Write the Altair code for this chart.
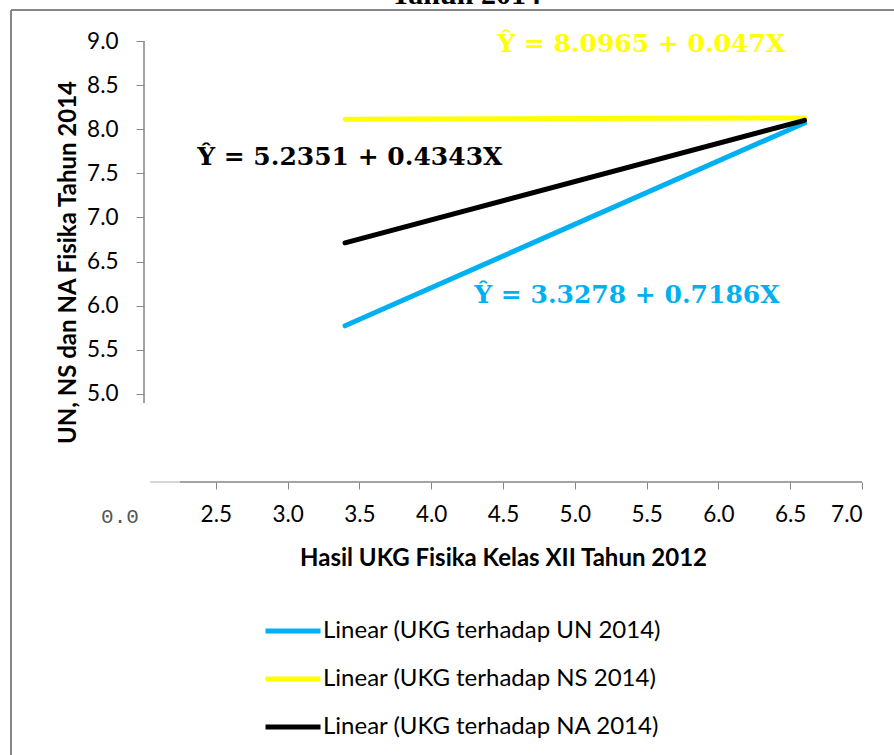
import altair as alt
import pandas as pd

# Regression lines: UKG 2012 score (x) against 2014 physics results (y)
series = [
    "Linear (UKG terhadap UN 2014)",
    "Linear (UKG terhadap NS 2014)",
    "Linear (UKG terhadap NA 2014)",
]
colors = ["#00B0F0", "#FFFF00", "#000000"]
x_ends = [3.4, 6.6]
y_un = [5.771, 8.071]
y_ns = [8.112, 8.127]
y_na = [6.712, 8.101]

# Equation annotations
eq_texts = ["Ŷ = 3.3278 + 0.7186X", "Ŷ = 8.0965 + 0.047X", "Ŷ = 5.2351 + 0.4343X"]

x_ticks = [2.5, 3.0, 3.5, 4.0, 4.5, 5.0, 5.5, 6.0, 6.5, 7.0]
y_ticks = [5.0, 5.5, 6.0, 6.5, 7.0, 7.5, 8.0, 8.5, 9.0]

lines = pd.DataFrame(
    [
        {"series": s, "x": xv, "y": yv}
        for s, ys in zip(series, [y_un, y_ns, y_na])
        for xv, yv in zip(x_ends, ys)
    ]
)

W, H = 718, 441
AXIS_GRAY = "#868686"
FONT = "Lato"
EQ_FONT = "DejaVu Serif"

x_scale = alt.Scale(domain=[2.0, 7.0], nice=False, zero=False)
y_scale = alt.Scale(domain=[4.0, 9.0], nice=False, zero=False)

line_layer = (
    alt.Chart(lines)
    .mark_line(strokeWidth=5, strokeCap="round")
    .encode(
        x=alt.X(
            "x:Q",
            scale=x_scale,
            axis=alt.Axis(
                values=x_ticks,
                format=".1f",
                domain=False,
                grid=False,
                tickColor=AXIS_GRAY,
                tickSize=7,
                labelFont=FONT,
                labelFontSize=22.5,
                labelColor="#000000",
                labelPadding=14,
                title="Hasil UKG Fisika Kelas XII Tahun 2012",
                titleFont=FONT,
                titleFontSize=24,
                titleFontWeight="bold",
                titleColor="#000000",
                titleX=359,
                titleY=76,
                titleBaseline="middle",
            ),
        ),
        y=alt.Y(
            "y:Q",
            scale=y_scale,
            axis=alt.Axis(
                values=y_ticks,
                format=".1f",
                domain=False,
                grid=False,
                tickColor=AXIS_GRAY,
                tickSize=8,
                labelFont=FONT,
                labelFontSize=22.5,
                labelColor="#000000",
                labelPadding=18,
                title="UN, NS dan NA Fisika Tahun 2014",
                titleFont=FONT,
                titleFontSize=24,
                titleFontWeight="bold",
                titleColor="#000000",
                titleX=-76,
                titleY=221,
                titleBaseline="middle",
            ),
        ),
        color=alt.Color(
            "series:N",
            scale=alt.Scale(domain=series, range=colors),
            sort=series,
            legend=alt.Legend(
                title=None,
                orient="none",
                legendX=119,
                legendY=560,
                direction="vertical",
                symbolType="stroke",
                symbolSize=3025,
                symbolStrokeWidth=5,
                labelFont=FONT,
                labelFontSize=24,
                labelColor="#000000",
                labelOffset=0,
                labelLimit=0,
                rowPadding=6,
            ),
        ),
    )
)

# Axis lines drawn separately so the vertical axis stops just below 5.0
y_axis_line = alt.Chart().mark_rule(color=AXIS_GRAY, strokeWidth=1.5).encode(
    x=alt.value(0), y=alt.value(0), y2=alt.value(362)
)
x_axis_faint = alt.Chart().mark_rule(color="#C8C8C8", strokeWidth=1.5).encode(
    x=alt.value(6), x2=alt.value(36), y=alt.value(H)
)
x_axis_line = alt.Chart().mark_rule(color=AXIS_GRAY, strokeWidth=1.5).encode(
    x=alt.value(36), x2=alt.value(W), y=alt.value(H)
)
zero_label = alt.Chart().mark_text(
    text="0.0", font="Liberation Mono", fontSize=21, color="#555555", align="center", baseline="middle"
).encode(x=alt.value(-24), y=alt.value(476))

# Outer chart frame (left and top edges) and partly hidden title
frame_left = alt.Chart().mark_rule(color=AXIS_GRAY, strokeWidth=2).encode(
    x=alt.value(-133), y=alt.value(-31), y2=alt.value(800)
)
frame_top = alt.Chart().mark_rule(color=AXIS_GRAY, strokeWidth=2).encode(
    x=alt.value(-133), x2=alt.value(800), y=alt.value(-31)
)
title = alt.Chart().mark_text(
    text="Tahun 2014", font="Liberation Serif", fontSize=30, fontWeight="bold",
    color="#000000", align="center", baseline="alphabetic"
).encode(x=alt.value(322), y=alt.value(-37))

eq_un = alt.Chart().mark_text(
    text=eq_texts[0], font=EQ_FONT, fontSize=25, fontWeight="bold",
    color=colors[0], align="left", baseline="middle"
).encode(x=alt.datum(4.3), y=alt.datum(6.12))
eq_ns = alt.Chart().mark_text(
    text=eq_texts[1], font=EQ_FONT, fontSize=25, fontWeight="bold",
    color=colors[1], align="left", baseline="middle"
).encode(x=alt.datum(4.46), y=alt.datum(8.965))
eq_na = alt.Chart().mark_text(
    text=eq_texts[2], font=EQ_FONT, fontSize=25, fontWeight="bold",
    color=colors[2], align="left", baseline="middle"
).encode(x=alt.datum(2.37), y=alt.datum(7.685))

chart = (
    alt.layer(
        frame_left, frame_top, title, y_axis_line, x_axis_faint, x_axis_line, zero_label,
        line_layer, eq_un, eq_ns, eq_na,
    )
    .properties(
        width=W,
        height=H,
        background="#FFFFFF",
        autosize=alt.AutoSizeParams(type="none"),
        padding={"left": 144, "top": 41, "right": 32, "bottom": 273},
    )
    .configure_view(stroke="transparent", strokeWidth=0)
)

chart.save("out.html", embed_options={"renderer": "svg", "actions": False})
